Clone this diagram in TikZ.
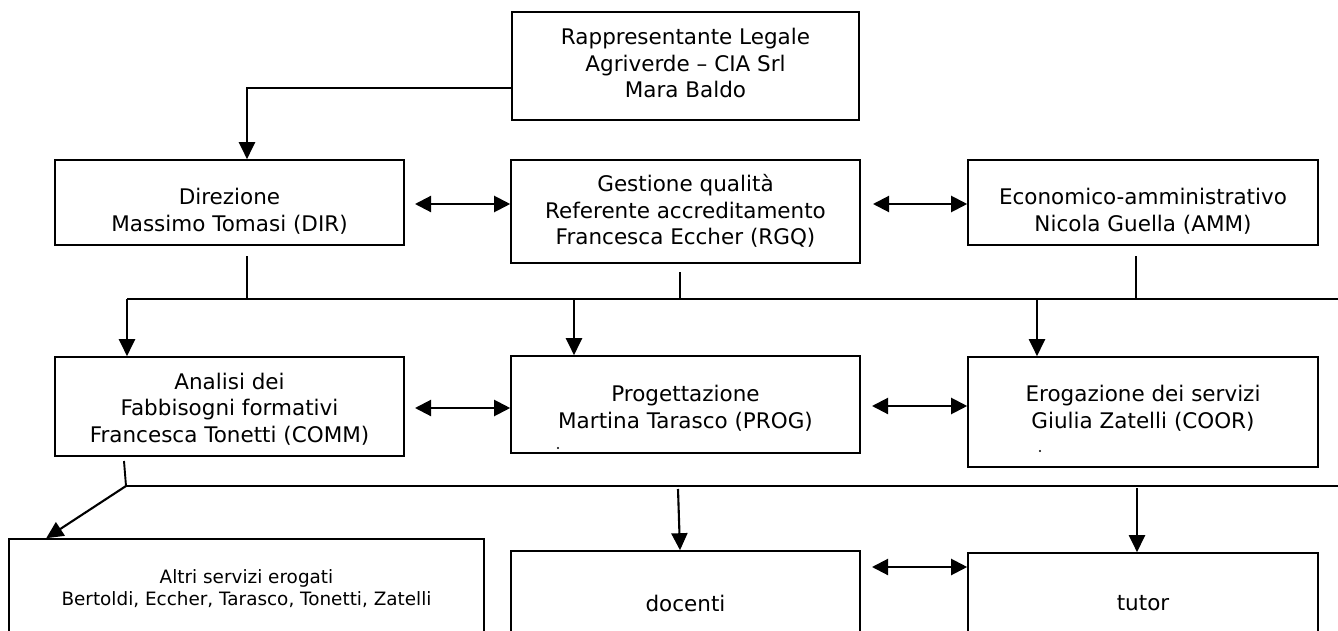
\documentclass[tikz,border=0pt]{standalone}
\usepackage{fontspec}
\setmainfont{DejaVu Sans}
\usetikzlibrary{arrows.meta}
\begin{document}
\begin{tikzpicture}[x=1pt,y=-1pt,
  box/.style={draw, line width=1.6pt, inner sep=0pt},
  txt/.style={align=center, font=\fontsize{21.5}{26.5}\selectfont, inner sep=0pt},
  stxt/.style={align=center, font=\fontsize{18.4}{22.5}\selectfont, inner sep=0pt},
  ln/.style={line width=1.9pt},
  bus/.style={line width=2.7pt},
  arr/.style={line width=2.1pt, -{Triangle[length=17pt,width=16pt]}},
  darr/.style={line width=2.1pt, {Triangle[length=16pt,width=16pt]}-{Triangle[length=16pt,width=16pt]}}]
\useasboundingbox (0,0) rectangle (1338,631);
\clip (0,0) rectangle (1338,631);
\fill[white] (0,0) rectangle (1338,631);

% boxes
\node[box, minimum width=347pt, minimum height=108pt] (rl) at (685.5,66) {};
\node[box, minimum width=349pt, minimum height=85pt] (dir) at (229.5,202.5) {};
\node[box, minimum width=349pt, minimum height=103pt] (gq) at (685.5,211.5) {};
\node[box, minimum width=350pt, minimum height=85pt] (ec) at (1143,202.5) {};
\node[box, minimum width=349pt, minimum height=99pt] (an) at (229.5,406.5) {};
\node[box, minimum width=349pt, minimum height=97pt] (pg) at (685.5,404.5) {};
\node[box, minimum width=350pt, minimum height=110pt] (er) at (1143,412) {};
\node[box, minimum width=475pt, minimum height=111pt] (al) at (246.5,594.5) {};
\node[box, minimum width=349pt, minimum height=109pt] (do) at (685.5,605.5) {};
\node[box, minimum width=350pt, minimum height=107pt] (tu) at (1143,606.5) {};

% texts
\node[txt] (rlT) at (685.5,63) {Rappresentante Legale\\Agriverde – CIA Srl\\Mara Baldo};
\node[txt] (dirT) at (229.5,211) {Direzione\\Massimo Tomasi (DIR)};
\node[txt] (gqT) at (685.5,211) {Gestione qualità\\Referente accreditamento\\Francesca Eccher (RGQ)};
\node[txt] (ecT) at (1143,211) {Economico-amministrativo\\Nicola Guella (AMM)};
\node[txt] (anT) at (229.5,409) {Analisi dei\\Fabbisogni formativi\\Francesca Tonetti (COMM)};
\node[txt] (pgT) at (685.5,408) {Progettazione\\Martina Tarasco (PROG)};
\node[txt] (erT) at (1143,408) {Erogazione dei servizi\\Giulia Zatelli (COOR)};
\node[stxt] (alT) at (246.5,588.5) {Altri servizi erogati\\Bertoldi, Eccher, Tarasco, Tonetti, Zatelli};
\node[txt] (doT) at (685.5,603) {docenti};
\node[txt] (tuT) at (1143,603) {tutor};

% tiny dots
\fill (558,448) circle (1.1pt);
\fill (1040,451) circle (1.1pt);

% top connector
\draw[arr] ([yshift=-22pt]rl.west) -| ([xshift=17.5pt]dir.north);

% row 1 double arrows
\coordinate (h1) at (415,204);
\coordinate (h2) at (873,204);
\draw[darr] (h1) -- (h1 -| gq.west);
\draw[darr] (h2) -- (h2 -| ec.west);

% first bus
\coordinate (b1L) at (127,299);
\coordinate (b1R) at (1338,299);
\coordinate (s1) at (247,256);
\coordinate (s2) at (680,272);
\coordinate (s3) at (1136,256);
\draw[ln] (s1) -- (s1 |- b1L);
\draw[ln] (s2) -- (s2 |- b1L);
\draw[ln] (s3) -- (s3 |- b1L);
\draw[bus] (b1L) -- (b1R);
\coordinate (b1p) at (574,299);
\coordinate (b1e) at (1037,299);
\draw[arr] (b1L) -- (b1L |- an.north);
\draw[arr] (b1p) -- (b1p |- pg.north);
\draw[arr] (b1e) -- (b1e |- er.north);

% row 2 double arrows
\coordinate (h3) at (415,408);
\coordinate (h4) at (872,406);
\draw[darr] (h3) -- (h3 -| pg.west);
\draw[darr] (h4) -- (h4 -| er.west);

% second bus
\coordinate (t1) at (124,461);
\coordinate (b2L) at (126,486);
\coordinate (b2R) at (1338,486);
\draw[ln] (t1) -- (b2L);
\draw[bus] (b2L) -- (b2R);
\draw[arr] (b2L) -- ([xshift=38pt]al.north west);
\coordinate (b2d) at (678,489);
\draw[arr] (b2d) -- ([xshift=-5.5pt]do.north);
\coordinate (b2t) at (1137,488);
\draw[arr] (b2t) -- (b2t |- tu.north);

% row 3 double arrow
\coordinate (h5) at (872,567);
\draw[darr] (h5) -- (h5 -| tu.west);
\end{tikzpicture}
\end{document}
